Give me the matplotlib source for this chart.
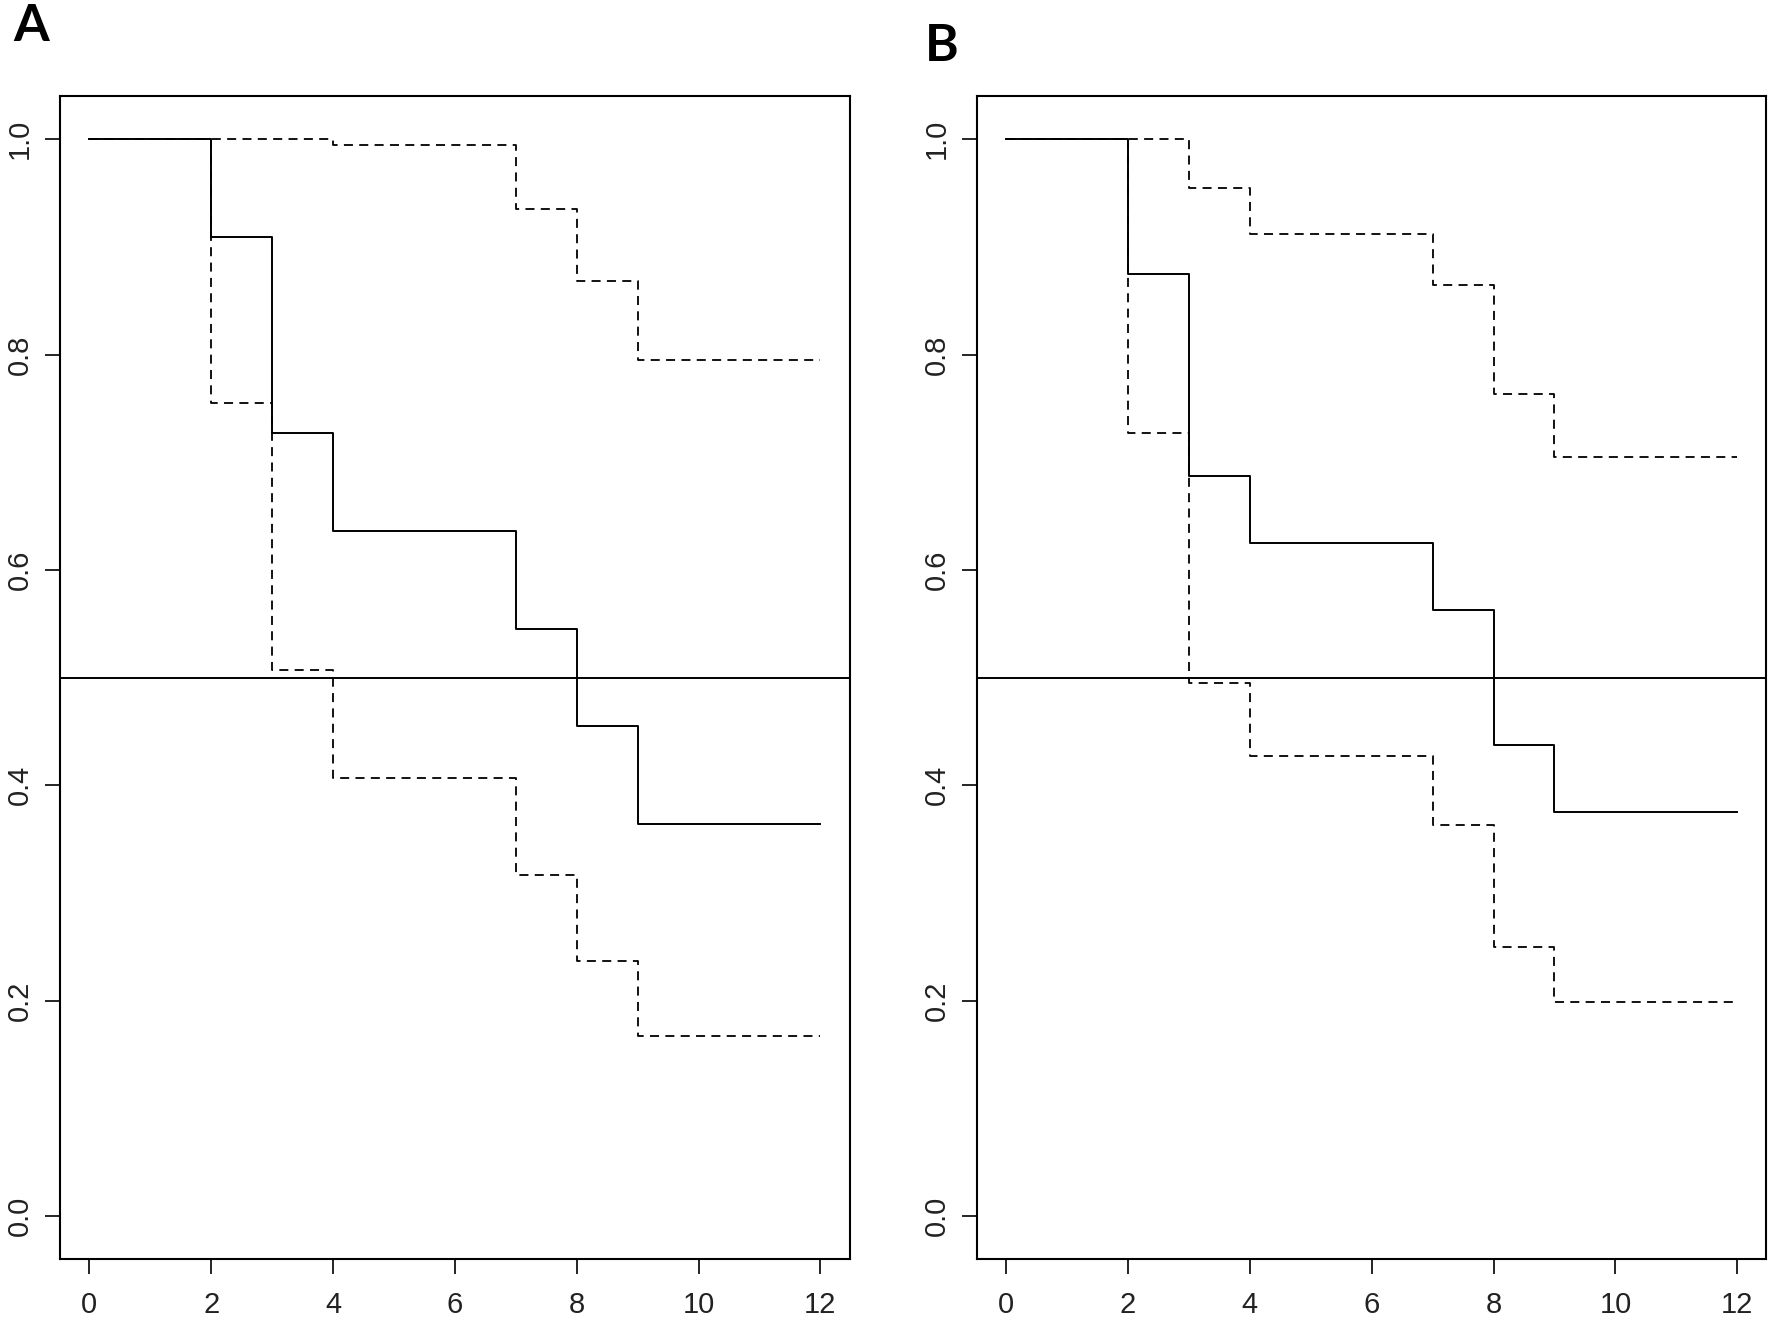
import matplotlib.pyplot as plt

# survival step data
times = [0, 2, 3, 4, 7, 8, 9, 12]

surv_a = [1.0, 0.909, 0.727, 0.636, 0.545, 0.455, 0.364, 0.364]
upper_a = [1.0, 1.0, 1.0, 0.995, 0.935, 0.868, 0.795, 0.795]
lower_a = [1.0, 0.755, 0.507, 0.407, 0.317, 0.237, 0.167, 0.167]

surv_b = [1.0, 0.875, 0.6875, 0.625, 0.5625, 0.4375, 0.375, 0.375]
upper_b = [1.0, 1.0, 0.955, 0.912, 0.865, 0.763, 0.705, 0.705]
lower_b = [1.0, 0.727, 0.495, 0.427, 0.363, 0.250, 0.199, 0.199]

x_ticks = [0, 2, 4, 6, 8, 10, 12]
y_ticks = [0.0, 0.2, 0.4, 0.6, 0.8, 1.0]

plt.rcParams['font.family'] = ['Liberation Sans', 'DejaVu Sans']

fig = plt.figure(figsize=(17.7, 13.19), dpi=100)
ax_a = fig.add_axes([0.034, 0.0455, 0.446, 0.8815])
ax_b = fig.add_axes([0.552, 0.0455, 0.446, 0.8815])

# axis, series, panel letter and where the letter sits (fig coords, baseline)
panels = [(ax_a, surv_a, upper_a, lower_a, 'A', 0.0073, 0.9689),
          (ax_b, surv_b, upper_b, lower_b, 'B', 0.5226, 0.9538)]

for ax, s, up, lo, lab, lx, ly in panels:
    ax.step(times, up, where='post', color='black', lw=1.3,
            linestyle=(0, (5, 3.5)))
    ax.step(times, lo, where='post', color='black', lw=1.3,
            linestyle=(0, (5, 3.5)))
    ax.step(times, s, where='post', color='black', lw=1.4)
    ax.axhline(0.5, color='black', lw=1.4)

    ax.set_xlim(-0.48, 12.48)
    ax.set_ylim(-0.04, 1.04)
    ax.set_xticks(x_ticks)
    ax.set_yticks(y_ticks)
    ax.set_yticklabels([f"{v:.1f}" for v in y_ticks], rotation=90, va='center')
    ax.tick_params(axis='both', labelsize=21, length=11, width=1.2,
                   color='black', labelcolor='#222222')
    ax.tick_params(axis='x', pad=12)
    ax.tick_params(axis='y', pad=8)
    for sp in ax.spines.values():
        sp.set_linewidth(1.5)

    fig.text(lx, ly, lab, fontsize=37, fontweight='bold',
             family=['Lato', 'DejaVu Sans'], ha='left', va='baseline')

fig.savefig('out.png', dpi=100)
